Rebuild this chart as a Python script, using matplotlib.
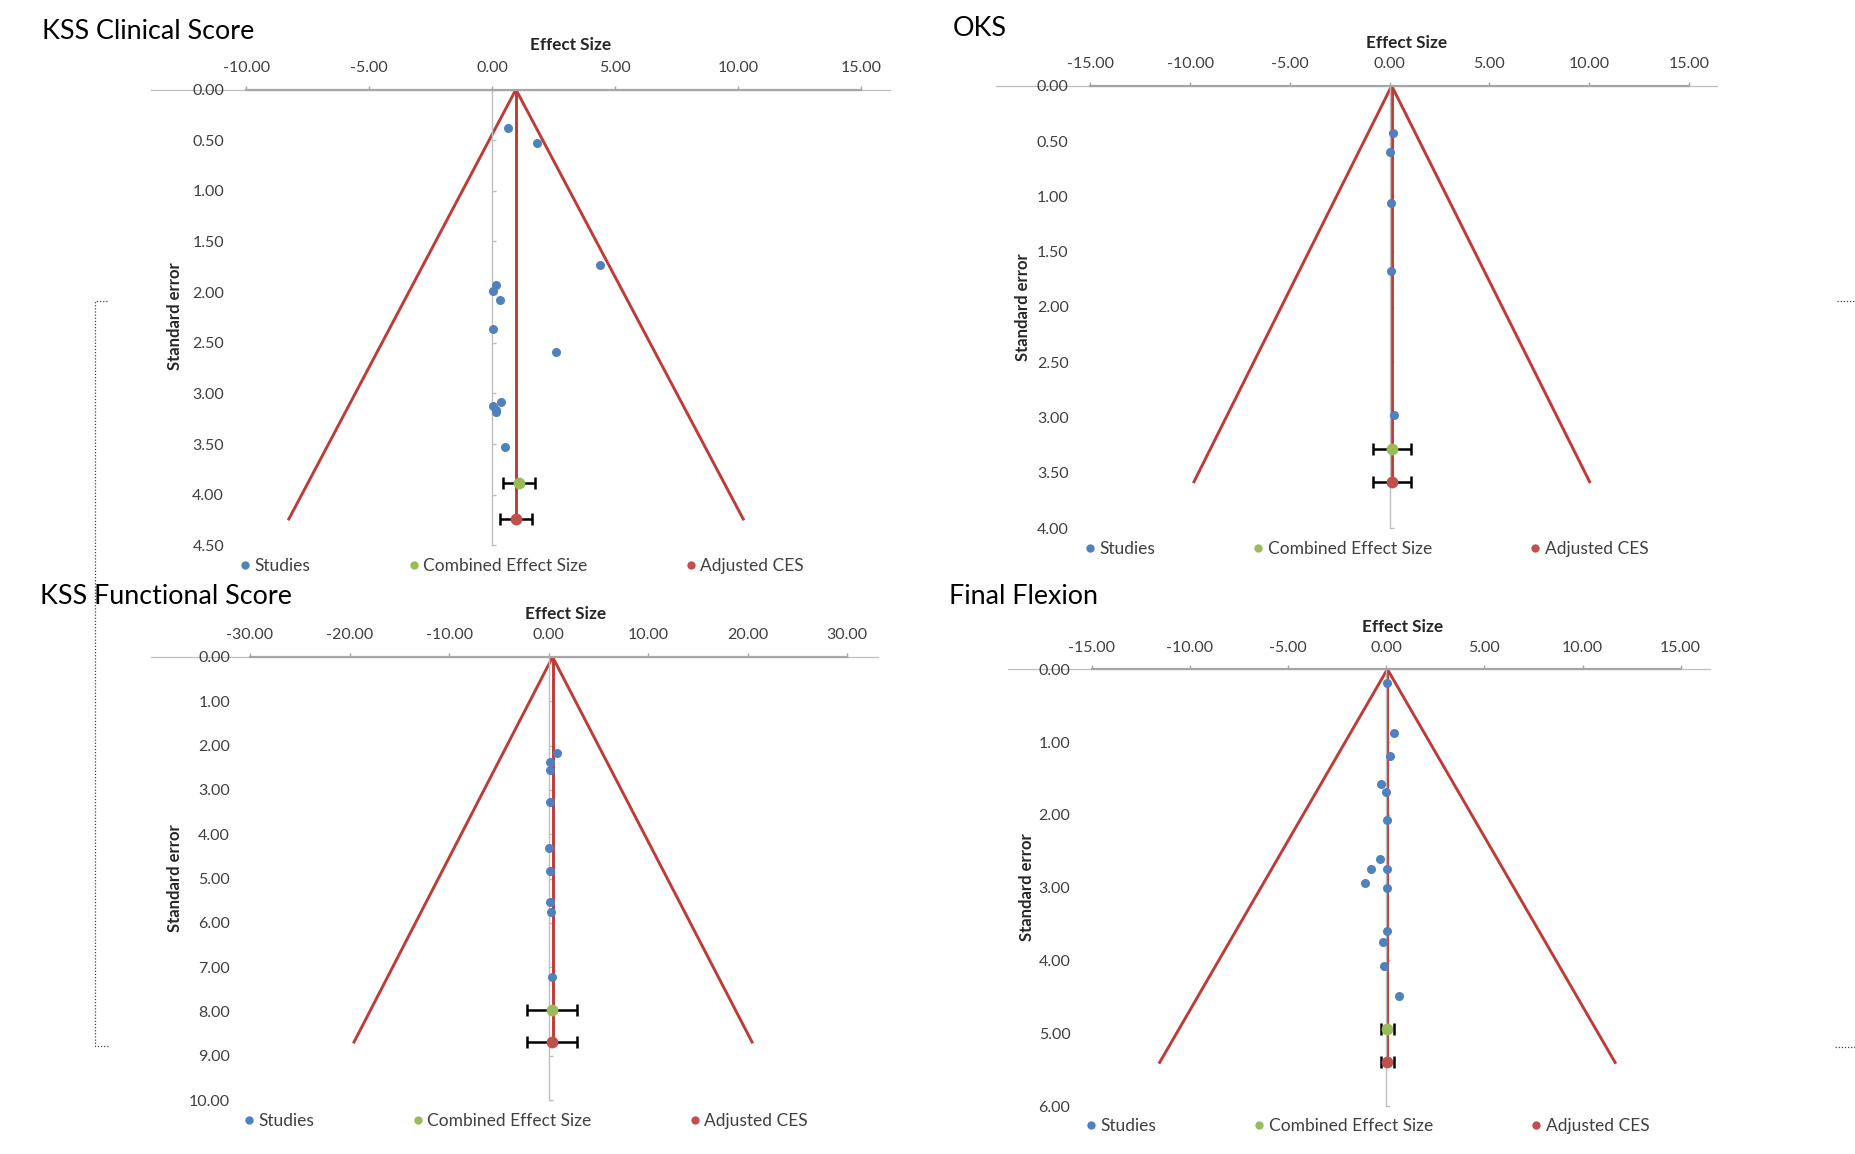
import numpy as np
import matplotlib
matplotlib.use("Agg")
import matplotlib.pyplot as plt
from matplotlib.lines import Line2D
from matplotlib.ticker import FormatStrFormatter

plt.rcParams['font.family'] = ['Lato', 'DejaVu Sans']
plt.rcParams['axes.unicode_minus'] = False

# ---- data (effect size, standard error) ----
kss_clin_es = [0.65, 1.81, 4.39, 0.14, 0.02, 0.31, 0.02, 2.60, 0.36, 0.02, 0.17, 0.14, 0.51]
kss_clin_se = [0.38, 0.53, 1.73, 1.93, 1.99, 2.08, 2.36, 2.59, 3.08, 3.12, 3.16, 3.18, 3.53]
kss_clin_funnel_es = [-8.27, 0.96, 10.20]
kss_clin_funnel_se = [4.24, 0.00, 4.24]
kss_clin_ces = [1.07, 3.88, 0.65]   # es, se, half-width of CI
kss_clin_adj = [0.96, 4.24, 0.65]

oks_es = [0.18, 0.03, 0.06, 0.06, 0.24]
oks_se = [0.43, 0.60, 1.06, 1.67, 2.98]
oks_funnel_es = [-9.81, 0.10, 10.02]
oks_funnel_se = [3.58, 0.00, 3.58]
oks_ces = [0.12, 3.28, 0.95]
oks_adj = [0.12, 3.58, 0.95]

kss_func_es = [0.89, 0.18, 0.18, 0.18, 0.06, 0.12, 0.18, 0.24, 0.36]
kss_func_se = [2.17, 2.36, 2.54, 3.27, 4.32, 4.82, 5.53, 5.75, 7.22]
kss_func_funnel_es = [-19.55, 0.40, 20.44]
kss_func_funnel_se = [8.69, 0.00, 8.69]
kss_func_ces = [0.35, 7.96, 2.53]
kss_func_adj = [0.35, 8.68, 2.53]

flex_es = [0.03, 0.42, 0.18, -0.24, -0.03, 0.06, -0.30, -0.75, 0.03, -1.08, 0.03, 0.03, -0.18, -0.12, 0.66]
flex_se = [0.19, 0.88, 1.19, 1.57, 1.69, 2.07, 2.60, 2.75, 2.75, 2.93, 3.00, 3.59, 3.75, 4.07, 4.49]
flex_funnel_es = [-11.54, 0.06, 11.66]
flex_funnel_se = [5.40, 0.00, 5.40]
flex_ces = [0.06, 4.94, 0.35]
flex_adj = [0.06, 5.40, 0.35]

legend_labels = ['Studies', 'Combined Effect Size', 'Adjusted CES']

BLUE = '#4F81BD'
GREEN = '#9BBB59'
RED = '#C0504D'
FUNNEL = '#BE3B37'
AXIS = '#A6A6A6'
TEXT = '#404040'

W, H = 1855, 1154
fig = plt.figure(figsize=(W / 100, H / 100), dpi=100)


def fx(x):
    return x / W


def fy(y):
    return 1 - y / H


def funnel_panel(spec, title, es, se, f_es, f_se, ces, adj):
    x0, xs, y0, ys = spec['x0'], spec['xs'], spec['y0'], spec['ys']
    yt = spec['yticks']
    ymax = yt[-1]
    bottom = y0 + ymax * ys
    ax = fig.add_axes([fx(spec['left']), fy(bottom),
                       (spec['right'] - spec['left']) / W, (bottom - y0) / H])
    ax.set_xlim((spec['left'] - x0) / xs, (spec['right'] - x0) / xs)
    ax.set_ylim(ymax, 0)
    ax.patch.set_visible(False)

    xt = spec['xticks']
    ax.set_xticks(xt)
    ax.set_yticks(yt)
    ax.xaxis.set_major_formatter(FormatStrFormatter('%.2f'))
    ax.yaxis.set_major_formatter(FormatStrFormatter('%.2f'))

    # horizontal axis at the top (se = 0), plus thin line across the plot area
    ax.spines['bottom'].set_visible(False)
    ax.spines['top'].set_color(AXIS)
    ax.spines['top'].set_linewidth(1.6)
    ax.spines['top'].set_bounds(xt[0], xt[-1])
    ax.axhline(0, color='#BFBFBF', lw=0.9, zorder=0.5, clip_on=False)

    # vertical axis crosses at es = 0, labels sit at the left
    ax.spines['right'].set_position(('data', 0))
    ax.spines['right'].set_color('#BFBFBF')
    ax.spines['right'].set_linewidth(1.0)
    ax.spines['left'].set_position(('data', (spec['lab'] + 4 - x0) / xs))
    ax.spines['left'].set_visible(False)
    ax.yaxis.set_ticks_position('both')
    ax.tick_params(axis='y', left=False, right=True, labelleft=True, labelright=False,
                   direction='out', length=3, width=1, color='#BFBFBF', pad=2.9,
                   labelsize=11.5, labelcolor=TEXT)
    ax.xaxis.set_ticks_position('top')
    ax.tick_params(axis='x', top=True, bottom=False, labeltop=True, labelbottom=False,
                   direction='out', length=3, width=1, color=AXIS, pad=7.5,
                   labelsize=11.5, labelcolor=TEXT)

    # funnel and centre line
    ax.plot(f_es, f_se, color=FUNNEL, lw=2.1, zorder=2, solid_joinstyle='miter')
    ax.vlines(f_es[1], f_se[1], f_se[0], color=FUNNEL, lw=2.1, zorder=2)

    ax.plot(es, se, 'o', color=BLUE, ms=6.5, mec='none', zorder=4)
    for pt, col in ((ces, GREEN), (adj, RED)):
        ax.errorbar(pt[0], pt[1], xerr=pt[2], fmt='none', ecolor='black',
                    elinewidth=1.8, capsize=4, capthick=1.8, zorder=3)
        ax.plot(pt[0], pt[1], 'o', color=col, ms=8.5, mec='none', zorder=5)

    # texts
    fig.text(fx(spec['title'][0]), fy(spec['title'][1]), title, fontsize=19.4,
             ha='left', va='center', color='black')
    fig.text(fx(spec['xlab'][0]), fy(spec['xlab'][1]), 'Effect Size', fontsize=12.3,
             fontweight='bold', ha='center', va='center', color='#262626')
    fig.text(fx(spec['ylab'][0]), fy(spec['ylab'][1]), 'Standard error', fontsize=12,
             fontweight='bold', rotation=90, ha='center', va='center', color='#262626')

    handles = [Line2D([], [], marker='o', ls='', color=c, mec='none', ms=6)
               for c in (BLUE, GREEN, RED)]
    fs = 12.5
    ax.legend(handles, legend_labels, ncol=3, loc='center left', frameon=False,
              bbox_to_anchor=(fx(spec['leg'][0] - 0.25 * fs * 100 / 72), fy(spec['leg'][1])),
              bbox_transform=fig.transFigure, fontsize=fs, labelcolor=TEXT,
              handlelength=0.5, handletextpad=0.3, columnspacing=5.7,
              borderpad=0, borderaxespad=0)
    return ax


# pixel layout of each panel
spec_tl = dict(x0=492.3, xs=24.60, y0=89.5, ys=101.3, left=151.2, right=889.7, lab=228.3,
               xticks=np.arange(-10, 15.1, 5), yticks=np.arange(0, 4.51, 0.5),
               title=(41.5, 31.5), xlab=(571, 45), ylab=(175, 316), leg=(245, 566))
spec_tr = dict(x0=1389.7, xs=19.95, y0=85.8, ys=110.6, left=996, right=1717, lab=1072.8,
               xticks=np.arange(-15, 15.1, 5), yticks=np.arange(0, 4.01, 0.5),
               title=(953, 29), xlab=(1407, 42.5), ylab=(1022.6, 307), leg=(1089.5, 549))
spec_bl = dict(x0=548.6, xs=9.953, y0=657.0, ys=44.31, left=151.2, right=877.8, lab=234.3,
               xticks=np.arange(-30, 30.1, 10), yticks=np.arange(0, 10.01, 1),
               title=(40, 596), xlab=(566, 614), ylab=(175, 878), leg=(249, 1121))
spec_br = dict(x0=1386.2, xs=19.63, y0=669.2, ys=72.82, left=1007.8, right=1709.6, lab=1074.6,
               xticks=np.arange(-15, 15.1, 5), yticks=np.arange(0, 6.01, 1),
               title=(949, 596), xlab=(1403, 627), ylab=(1027, 887), leg=(1090.6, 1126))

funnel_panel(spec_tl, 'KSS Clinical Score', kss_clin_es, kss_clin_se,
             kss_clin_funnel_es, kss_clin_funnel_se, kss_clin_ces, kss_clin_adj)
funnel_panel(spec_tr, 'OKS', oks_es, oks_se, oks_funnel_es, oks_funnel_se, oks_ces, oks_adj)
funnel_panel(spec_bl, 'KSS Functional Score', kss_func_es, kss_func_se,
             kss_func_funnel_es, kss_func_funnel_se, kss_func_ces, kss_func_adj)
funnel_panel(spec_br, 'Final Flexion', flex_es, flex_se, flex_funnel_es, flex_funnel_se,
             flex_ces, flex_adj)

# dotted selection brackets left over from the document
for xs_, ys_ in (([107, 95, 95, 108], [301, 301, 1046, 1046]),
                 ([1837, 1855], [301, 301]), ([1835, 1855], [1047, 1047])):
    fig.add_artist(Line2D([fx(v) for v in xs_], [fy(v) for v in ys_], color='#404040',
                          lw=0.9, ls=(0, (1, 1.5))))

fig.savefig('out.png', dpi=100)
